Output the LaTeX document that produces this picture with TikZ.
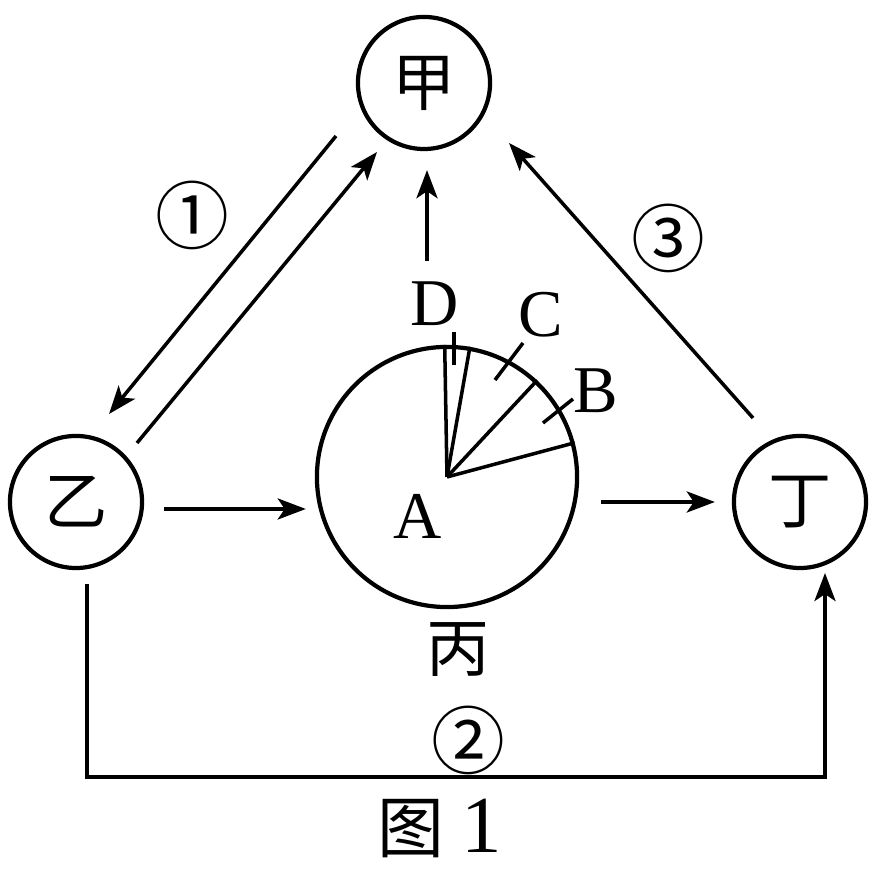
\documentclass[tikz,border=0pt]{standalone}
\usepackage{fontspec}
\setmainfont{Liberation Serif}
\newfontfamily\cjk{Noto Sans CJK SC}
\usetikzlibrary{arrows.meta}
\tikzset{
  part/.style={draw, circle, line width=1.2pt, minimum size=1.32cm, inner sep=0pt,
    font=\cjk\fontsize{18}{18}\selectfont},
  flow/.style={-{Stealth[length=8pt,width=6pt,inset=2pt]}, line width=1pt},
  num/.style={inner sep=0pt, font=\cjk\fontsize{21}{21}\selectfont},
  letter/.style={inner sep=0pt, font=\fontsize{19}{19}\selectfont},
  tick/.style={line width=1pt}
}

\begin{document}
\begin{tikzpicture}[x=0.01cm, y=-0.01cm]
\useasboundingbox (0,0) rectangle (881,871);

\node[part] (jia) at (424,83) {甲};
\node[part] (yi) at (76,502) {乙};
\node[part] (ding) at (800,502) {丁};
\node[draw, circle, line width=1.2pt, minimum size=2.6cm, inner sep=0pt] (bing) at (447,477) {};

% sectors of the pie
\foreach \ang in {91,80.5,47,15}
  \draw[tick] (bing.center) -- (bing.\ang);
\draw[tick] ([shift={(7,-145)}]bing.center) -- ([shift={(7,-112)}]bing.center);
\draw[tick] ([shift={(48,-97)}]bing.center) -- ([shift={(76,-134)}]bing.center);
\draw[tick] ([shift={(96,-54)}]bing.center) -- ([shift={(126,-78)}]bing.center);

\node[letter] (A) at (418,516) {A};
\node[letter] (B) at (596,391) {B};
\node[letter] (C) at (541,315) {C};
\node[letter] (D) at (435,304) {D};
\node[inner sep=0pt, font=\cjk\fontsize{18}{18}\selectfont] (bing-name) at (458,650) {丙};

% flows
\draw[flow] ([shift={(-88,53)}]jia.center) -- ([shift={(33,-88)}]yi.center);
\draw[flow] ([shift={(61,-59)}]yi.center) -- ([shift={(-47,69)}]jia.center);
\draw[flow] ([shift={(-47,-84)}]ding.center) -- ([shift={(85,60)}]jia.center);
\draw[flow] ([shift={(-20,-84)}]bing.north) -- ([shift={(3,19)}]jia.south);
\draw[flow] ([shift={(20,7)}]yi.east) -- ([shift={(-9,32)}]bing.west);
\draw[flow] ([shift={(22,25)}]bing.east) -- ([shift={(-17,0)}]ding.west);
\draw[flow] ([shift={(11,82)}]yi.center) -- ++(0,193) -| ([shift={(25,71)}]ding.center);

\node[num] (n1) at (192,215) {①};
\node[num] (n2) at (468,740) {②};
\node[num] (n3) at (668,238) {③};

\node[inner sep=0pt] (caption) at (440,828) {{\cjk\fontsize{19}{19}\selectfont 图}\hspace{5pt}{\fontsize{23}{23}\selectfont 1}};
\end{tikzpicture}
\end{document}
